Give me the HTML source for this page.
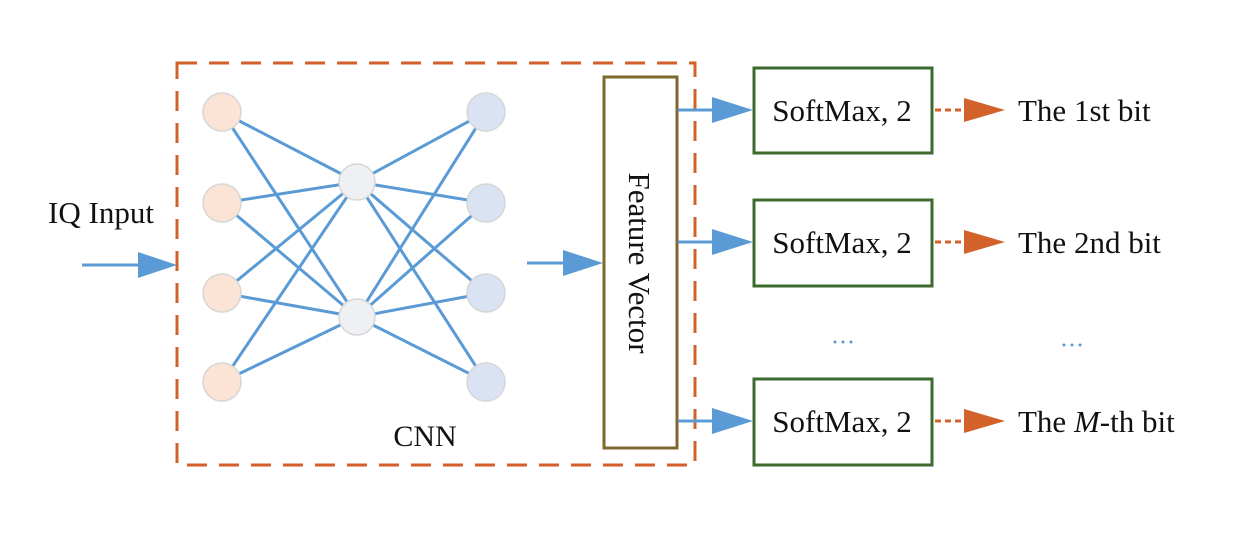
<!DOCTYPE html>
<html><head><meta charset="utf-8"><style>
body{margin:0;background:#fff;}
svg text{font-family:"Liberation Serif",serif;fill:#111;}
</style></head><body>
<svg width="1242" height="532" xmlns="http://www.w3.org/2000/svg">
<rect x="177" y="63" width="518" height="402" fill="none" stroke="#d2622a" stroke-width="3" stroke-dasharray="20,12"/>
<g stroke="#5b9bd5" stroke-width="3">
<line x1="222" y1="112" x2="357" y2="182"/><line x1="222" y1="112" x2="357" y2="317"/>
<line x1="222" y1="203" x2="357" y2="182"/><line x1="222" y1="203" x2="357" y2="317"/>
<line x1="222" y1="293" x2="357" y2="182"/><line x1="222" y1="293" x2="357" y2="317"/>
<line x1="222" y1="382" x2="357" y2="182"/><line x1="222" y1="382" x2="357" y2="317"/>
<line x1="486" y1="112" x2="357" y2="182"/><line x1="486" y1="112" x2="357" y2="317"/>
<line x1="486" y1="203" x2="357" y2="182"/><line x1="486" y1="203" x2="357" y2="317"/>
<line x1="486" y1="293" x2="357" y2="182"/><line x1="486" y1="293" x2="357" y2="317"/>
<line x1="486" y1="382" x2="357" y2="182"/><line x1="486" y1="382" x2="357" y2="317"/>
</g>
<g stroke="#d6d6d6" stroke-width="1.5">
<circle cx="222" cy="112" r="19" fill="#fbe4d5"/><circle cx="222" cy="203" r="19" fill="#fbe4d5"/>
<circle cx="222" cy="293" r="19" fill="#fbe4d5"/><circle cx="222" cy="382" r="19" fill="#fbe4d5"/>
<circle cx="357" cy="182" r="18" fill="#eef0f3"/><circle cx="357" cy="317" r="18" fill="#eef0f3"/>
<circle cx="486" cy="112" r="19" fill="#dae3f3"/><circle cx="486" cy="203" r="19" fill="#dae3f3"/>
<circle cx="486" cy="293" r="19" fill="#dae3f3"/><circle cx="486" cy="382" r="19" fill="#dae3f3"/>
</g>
<path d="M82 265 H140" stroke="#5b9bd5" stroke-width="3"/><path d="M138 252 L177 265 L138 278z" fill="#5b9bd5"/>
<path d="M527 263 H565" stroke="#5b9bd5" stroke-width="3"/><path d="M563 250 L603 263 L563 276z" fill="#5b9bd5"/>
<rect x="604" y="77" width="73" height="371" fill="#fff" stroke="#7f6a2e" stroke-width="3"/>
<text transform="translate(629,263) rotate(90)" font-size="31" text-anchor="middle">Feature Vector</text>
<text x="425" y="446" font-size="30" text-anchor="middle">CNN</text>
<text x="101" y="223" font-size="31" text-anchor="middle">IQ Input</text>
<g fill="none" stroke="#3d6a2f" stroke-width="3">
<rect x="754" y="68" width="178" height="85"/><rect x="754" y="200" width="178" height="86"/><rect x="754" y="379" width="178" height="86"/>
</g>
<g font-size="31" text-anchor="middle">
<text x="842" y="121">SoftMax, 2</text><text x="842" y="253">SoftMax, 2</text><text x="842" y="432">SoftMax, 2</text>
</g>
<g stroke="#5b9bd5" stroke-width="3">
<path d="M678 110 H715"/><path d="M678 242 H715"/><path d="M678 421 H715"/>
</g>
<g fill="#5b9bd5">
<path d="M712 97 L753 110 L712 123z"/><path d="M712 229 L753 242 L712 255z"/><path d="M712 408 L753 421 L712 434z"/>
</g>
<g stroke="#d2622a" stroke-width="3" stroke-dasharray="6,4">
<path d="M935 110 H965"/><path d="M935 242 H965"/><path d="M935 421 H965"/>
</g>
<g fill="#d2622a">
<path d="M964 98 L1005 110 L964 122z"/><path d="M964 230 L1005 242 L964 254z"/><path d="M964 409 L1005 421 L964 433z"/>
</g>
<g font-size="31">
<text x="1018" y="121">The 1st bit</text><text x="1018" y="253">The 2nd bit</text>
<text x="1018" y="432">The <tspan font-style="italic">M</tspan>-th bit</text>
</g>
<g fill="#5b9bd5"><circle cx="835" cy="342" r="1.5"/><circle cx="843" cy="342" r="1.5"/><circle cx="851" cy="342" r="1.5"/>
<circle cx="1064" cy="345" r="1.5"/><circle cx="1072" cy="345" r="1.5"/><circle cx="1080" cy="345" r="1.5"/></g>
</svg>
</body></html>
